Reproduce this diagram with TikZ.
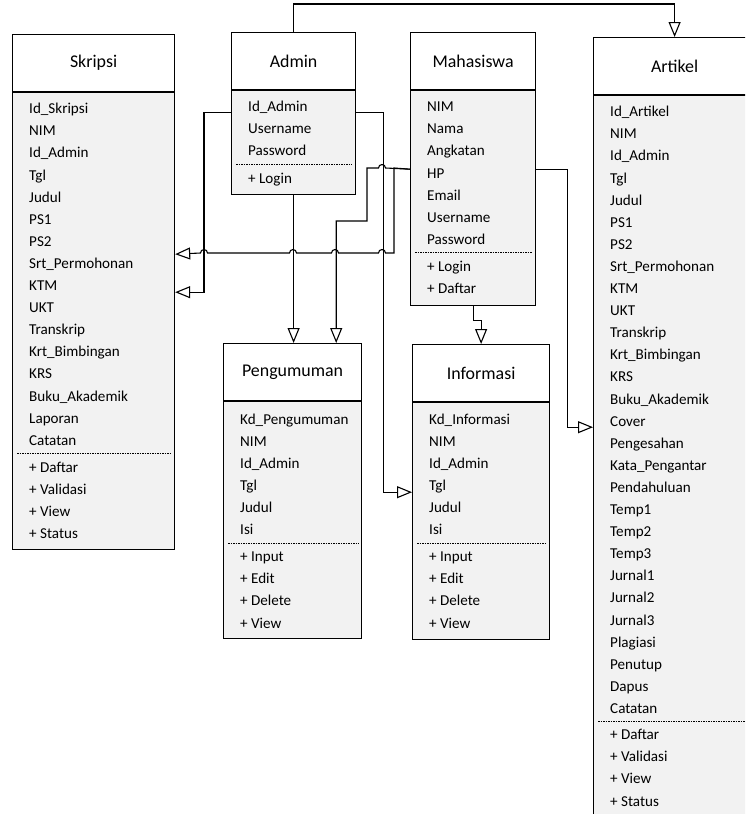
\documentclass[tikz,border=0pt]{standalone}
\usepackage{fontspec}
\setmainfont{Carlito}
\usetikzlibrary{arrows.meta,calc}

\definecolor{boxgray}{RGB}{242,242,242}
\newcommand\titlesize{\fontsize{17.9}{20}\selectfont}
\newcommand\rowsize{\fontsize{15.1}{17}\selectfont}

\tikzset{
  head/.style={draw, fill=white, line width=1.2pt, inner sep=0pt, anchor=north west,
    minimum height=57pt, font=\titlesize},
  body/.style={draw, fill=boxgray, line width=1.2pt, inner sep=0pt, anchor=north west},
  attr/.style={anchor=base west, inner sep=0pt, font=\rowsize},
  sep/.style={line width=0.7pt, dash pattern=on 1.5pt off 1pt},
  link/.style={line width=1.1pt, -{Triangle[open,length=15pt,width=12pt]}}
}

% one compartment of rows, #2 = baseline of the first row below the top
\newcommand\fields[3]{\foreach \t [count=\i from 0] in {#3}
  \node[attr] at ($(#1.north west)+(17,{#2+22.1*\i})$) {\t};}

\begin{document}
\begin{tikzpicture}[x=1pt,y=-1pt]
  \useasboundingbox (0,0) rectangle (745,814);
  \clip (0,0) rectangle (745,814);
  \fill[white] (0,0) rectangle (745,814);

  % Skripsi
  \node[head, minimum width=162pt] (skr) at (12,34) {Skripsi};
  \node[body, minimum width=162pt, minimum height=457pt] (skrb) at (skr.south west) {};
  \fields{skrb}{21.5}{Id\_Skripsi, NIM, Id\_Admin, Tgl, Judul, PS1, PS2, Srt\_Permohonan, KTM, UKT,
    Transkrip, Krt\_Bimbingan, KRS, Buku\_Akademik, Laporan, Catatan}
  \draw[sep] ($(skrb.north west)+(5,361.5)$) -- ($(skrb.north east)+(-4,361.5)$);
  \fields{skrb}{380}{+ Daftar, + Validasi, + View, + Status}

  % Admin
  \node[head, minimum width=124pt] (adm) at (231,32) {Admin};
  \node[body, minimum width=124pt, minimum height=104pt] (admb) at (adm.south west) {};
  \fields{admb}{21.5}{Id\_Admin, Username, Password}
  \draw[sep] ($(admb.north west)+(5,74)$) -- ($(admb.north east)+(-4,74)$);
  \fields{admb}{93}{+ Login}

  % Mahasiswa
  \node[head, minimum width=125pt] (mhs) at (410,32) {Mahasiswa};
  \node[body, minimum width=125pt, minimum height=215pt] (mhsb) at (mhs.south west) {};
  \fields{mhsb}{21.5}{NIM, Nama, Angkatan, HP, Email, Username, Password}
  \draw[sep] ($(mhsb.north west)+(5,162.5)$) -- ($(mhsb.north east)+(-4,162.5)$);
  \fields{mhsb}{181}{+ Login, + Daftar}

  % Artikel
  \node[head, minimum width=162pt] (art) at (593,37) {Artikel};
  \node[body, minimum width=162pt, minimum height=722pt] (artb) at (art.south west) {};
  \fields{artb}{21.5}{Id\_Artikel, NIM, Id\_Admin, Tgl, Judul, PS1, PS2, Srt\_Permohonan, KTM, UKT,
    Transkrip, Krt\_Bimbingan, KRS, Buku\_Akademik, Cover, Pengesahan, Kata\_Pengantar,
    Pendahuluan, Temp1, Temp2, Temp3, Jurnal1, Jurnal2, Jurnal3, Plagiasi, Penutup, Dapus, Catatan}
  \draw[sep] ($(artb.north west)+(5,626)$) -- ($(artb.north east)+(-4,626)$);
  \fields{artb}{644.5}{+ Daftar, + Validasi, + View, + Status}

  % Pengumuman
  \node[head, minimum width=138pt] (pen) at (223,343) {Pengumuman};
  \node[body, minimum width=138pt, minimum height=237pt] (penb) at (pen.south west) {};
  \fields{penb}{23}{Kd\_Pengumuman, NIM, Id\_Admin, Tgl, Judul, Isi}
  \draw[sep] ($(penb.north west)+(5,142)$) -- ($(penb.north east)+(-4,142)$);
  \fields{penb}{160.5}{+ Input, + Edit, + Delete, + View}

  % Informasi
  \node[head, minimum width=137pt] (inf) at (412,344) {Informasi};
  \node[body, minimum width=137pt, minimum height=237pt] (infb) at (inf.south west) {};
  \fields{infb}{22}{Kd\_Informasi, NIM, Id\_Admin, Tgl, Judul, Isi}
  \draw[sep] ($(infb.north west)+(5,141)$) -- ($(infb.north east)+(-4,141)$);
  \fields{infb}{159.5}{+ Input, + Edit, + Delete, + View}

  % connector ends
  \coordinate (adm-l) at ($(admb.north west)+(0,22)$);
  \coordinate (adm-r) at ($(admb.north east)+(0,22)$);
  \coordinate (mhs-l) at ($(mhsb.north west)+(0,79)$);
  \coordinate (mhs-r) at ($(mhsb.north east)+(0,79)$);
  \coordinate (skr-in1) at ($(skrb.north east)+(0,162)$);
  \coordinate (skr-in2) at ($(skrb.north east)+(0,200)$);
  \coordinate (inf-in) at ($(infb.north west)+(0,90)$);
  \coordinate (art-in) at ($(artb.north west)+(0,332)$);
  \coordinate (pen-in) at ($(pen.north east)+(-26,0)$);

  % connectors
  \draw[link] (adm.north) -- ++(0,-28) -| (art.north);
  \draw[link] (adm-l) -- ++(-27,0) |- (skr-in2);
  \draw[link] (adm-r) -- ++(27,0) |- (inf-in);
  \draw[link] (admb.south) -- (admb.south |- pen.north);
  \draw[link] (mhs-l) -- (385.5,168) arc[start angle=0,end angle=-180,radius=3.5]
    -- (367,168) -- (367,221) -| (pen-in);
  \draw[link] (mhs-l) -- (394,168) -- (394,253)
    -- (385.5,253) arc[start angle=0,end angle=-180,radius=3.5]
    -- (338.5,253) arc[start angle=0,end angle=-180,radius=3.5]
    -- (296.5,253) arc[start angle=0,end angle=-180,radius=3.5]
    -- (207.5,253) arc[start angle=0,end angle=-180,radius=3.5]
    -- (skr-in1);
  \draw[link] (mhs-r) -- ++(31,0) |- (art-in);
  \draw[link] (mhsb.south) -- ++(0,14) -| (inf.north);
\end{tikzpicture}
\end{document}
